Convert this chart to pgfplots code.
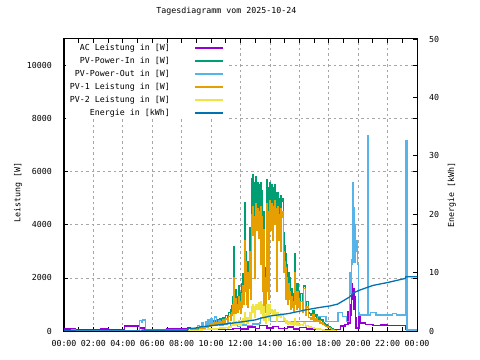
\documentclass[border=0pt]{standalone}
\usepackage{fontspec}
\setmainfont{DejaVu Sans Mono}
\usepackage{pgfplots}
\usepackage{pgfplotstable}
\pgfplotsset{compat=1.18}
\definecolor{cAC}{HTML}{9400D3}
\definecolor{cIn}{HTML}{009E73}
\definecolor{cOut}{HTML}{56B4E9}
\definecolor{cPa}{HTML}{E69F00}
\definecolor{cPb}{HTML}{F0E442}
\definecolor{cE}{HTML}{0072B2}
\newcommand\gf{\fontsize{8.3bp}{10bp}\selectfont}

\pgfplotstableread{
h G O Y
8.4 0 0 0
8.5 10 5 3
8.6 15 10 5
8.7 30 20 10
8.8 50 35 15
8.9 70 50 20
9.0 100 70 30
9.1 90 60 25
9.2 140 100 40
9.3 120 80 35
9.4 190 140 50
9.5 160 110 45
9.6 230 170 60
9.7 180 130 50
9.8 270 200 70
9.9 220 160 60
10.0 330 250 80
10.1 270 200 70
10.2 400 300 90
10.3 300 220 80
10.4 430 330 100
10.5 340 250 90
10.6 470 360 110
10.7 370 280 90
10.8 500 380 120
10.9 400 300 100
11.0 580 450 130
11.1 460 350 110
11.2 700 550 150
11.3 520 400 120
11.35 800 600 180
11.40 950 700 250
11.45 1300 1000 300
11.50 800 600 200
11.55 3160 2000 600
11.60 1050 800 250
11.65 1550 1200 350
11.70 850 650 200
11.75 1300 1000 300
11.80 950 700 250
11.85 1700 1300 400
11.90 1050 800 250
11.95 1450 1100 350
12.00 850 650 200
12.05 1800 1400 400
12.10 1200 900 300
12.15 2150 1700 450
12.20 1300 1000 300
12.25 4850 3400 700
12.30 1900 1500 350
12.35 3000 2600 500
12.40 1300 1000 300
12.45 2600 2200 500
12.50 1200 900 300
12.55 2000 1600 400
12.60 3300 2800 600
12.65 3900 3000 700
12.70 1500 1200 400
12.75 5750 4400 900
12.80 4500 3600 700
12.85 5900 4700 1000
12.90 5600 4300 900
12.95 2500 2000 500
13.00 5800 4800 1000
13.05 5500 4500 950
13.10 4600 3800 800
13.15 5600 4600 1000
13.20 4200 3500 800
13.25 5400 4500 1050
13.30 5500 4400 1000
13.35 3000 2500 650
13.40 5600 4700 1100
13.45 5300 4300 1000
13.50 1900 1500 500
13.55 4500 3800 900
13.60 1200 900 400
13.65 2400 2000 600
13.70 900 700 300
13.75 1900 1500 500
13.80 5700 4800 1000
13.85 5400 4500 1000
13.90 1500 1200 400
13.95 5600 4900 1000
14.00 5300 4600 950
14.05 4300 3800 700
14.10 5500 4800 800
14.15 5300 4500 750
14.20 4000 3400 600
14.25 5400 4700 750
14.30 5500 4900 800
14.35 4500 4000 600
14.40 5200 4600 700
14.45 1900 1500 350
14.50 5100 4500 650
14.55 5200 4700 700
14.60 4000 3400 550
14.65 5000 4400 600
14.70 5100 4600 650
14.75 3500 3000 500
14.80 4900 4300 600
14.85 5000 4500 600
14.90 2600 2200 400
14.95 3700 3000 500
15.00 3200 2600 450
15.05 1500 1200 300
15.10 2900 2400 400
15.15 2500 2000 400
15.20 1300 1000 250
15.25 2200 1800 350
15.30 1500 1200 300
15.35 2000 1500 350
15.40 1100 800 250
15.45 1600 1300 300
15.50 1200 900 250
15.55 1400 1100 300
15.60 1000 700 200
15.65 2930 2200 450
15.70 1300 1000 250
15.75 1700 1400 300
15.80 1100 800 200
15.85 1800 1500 300
15.90 1200 900 200
15.95 1500 1200 250
16.00 1100 800 200
16.10 1400 1100 250
16.20 900 700 200
16.30 1700 1600 300
16.40 800 600 180
16.50 1100 900 200
16.60 700 500 150
16.70 650 500 150
16.80 600 450 130
16.90 750 600 120
17.00 550 400 100
17.10 600 450 100
17.20 450 350 80
17.30 500 400 70
17.40 400 300 60
17.50 420 330 50
17.60 320 250 40
17.70 280 220 30
17.80 230 180 20
17.90 190 150 15
18.00 150 120 10
18.10 110 90 5
18.20 80 60 0
18.30 40 30 0
18.40 15 10 0
18.50 0 0 0
}\pvtable

\pgfplotstableread{
h P
0.0 30
0.3 20
0.5 35
0.75 10
2.8 10
2.85 30
5.1 30
5.12 400
5.3 330
5.35 420
5.5 420
5.52 40
8.4 40
8.45 100
8.6 60
9.0 80
9.1 200
9.2 120
9.35 300
9.45 150
9.6 350
9.7 180
9.8 420
9.9 220
10.0 480
10.1 260
10.25 530
10.35 300
10.5 380
10.6 220
10.8 420
10.9 260
11.1 320
11.3 200
11.5 260
11.8 180
12.0 230
12.4 200
12.8 260
13.3 300
13.35 520
14.0 520
14.05 370
17.2 370
17.22 540
17.8 540
17.82 350
18.6 350
18.62 700
18.9 700
18.92 540
19.2 540
19.22 350
19.38 350
19.40 1200
19.43 2200
19.47 2000
19.50 1400
19.53 2700
19.58 2500
19.61 5600
19.66 5600
19.68 2600
19.71 4660
19.74 2800
19.77 4020
19.81 2600
19.84 3420
19.88 3000
19.91 3420
19.96 2500
20.02 700
20.05 600
20.60 600
20.62 7370
20.67 7370
20.69 600
20.80 600
20.82 710
21.20 710
21.22 600
22.30 600
22.32 650
22.60 650
22.62 600
23.20 600
23.22 7180
23.29 7180
23.31 40
24.0 40
}\outtable

\pgfplotstableread{
h P
0.0 75
0.2 40
0.25 75
0.5 40
0.55 75
0.8 50
1.5 60
2.0 50
2.5 70
3.0 50
3.5 60
4.1 190
5.12 110
5.5 60
6.5 60
7.0 70
8.4 110
8.6 60
9.0 50
10.0 80
11.0 60
11.5 100
12.0 80
12.5 150
13.0 100
13.3 220
13.8 110
14.2 180
14.6 100
15.2 150
15.6 80
16.0 120
16.5 70
17.0 65
18.8 190
19.1 250
19.3 720
19.35 300
19.45 1000
19.5 600
19.55 1770
19.62 1200
19.67 1600
19.72 800
19.77 1300
19.82 500
19.85 110
20.05 600
20.12 300
20.5 250
21.0 200
21.5 230
22.0 200
22.5 220
23.2 65
24 65
}\actable

\pgfplotstableread{
h E
0 0.1
0.75 0.1
0.76 0.0
5.3 0.0
5.31 0.15
8.4 0.15
8.45 0.45
9.0 0.5
9.25 0.7
10.0 0.9
11.3 1.3
12.2 1.6
13.0 1.9
13.4 2.2
14.1 2.6
15.3 3.0
16.4 3.6
17.3 4.0
18.1 4.3
18.6 4.6
19.0 5.2
19.4 5.8
19.65 6.5
20.1 7.0
21.0 7.8
22.0 8.3
23.2 9.0
23.25 9.3
24 9.3
}\entable

\begin{document}
\begin{tikzpicture}[font=\gf]
\path[use as bounding box] (0,0) rectangle (480bp,360bp);
\begin{axis}[
  at={(64bp,29bp)}, anchor=south west, scale only axis, width=353bp, height=292bp,
  xmin=0, xmax=24, ymin=0, ymax=11000,
  scaled y ticks=false,
  xtick={0,2,...,24},
  xticklabels={00:00,02:00,04:00,06:00,08:00,10:00,12:00,14:00,16:00,18:00,20:00,22:00,00:00},
  minor xtick={1,3,...,23},
  ytick={0,2000,...,10000}, yticklabels={0,2000,4000,6000,8000,10000},
  tick align=inside, major tick length=4bp, minor tick length=4bp,
  tick style={black, line width=0.8bp},
  axis line style={black, line width=1bp},
  xmajorgrids, ymajorgrids,
  major grid style={color=black!35, line width=0.8bp, dash pattern=on 2.5bp off 3bp},
  xticklabel style={inner sep=0pt, anchor=north, yshift=-9bp, font=\gf},
  yticklabel style={inner sep=0pt, anchor=east, xshift=-12bp, font=\gf},
  ylabel={Leistung [W]},
  ylabel style={at={(axis description cs:-0.13,0.473)}, anchor=center, inner sep=0pt, font=\gf},
  title={Tagesdiagramm vom 2025-10-24},
  title style={at={(axis description cs:0.46,1.075)}, anchor=center, inner sep=0pt, font=\gf},
  legend plot pos=right, legend cell align=right,
  legend style={draw=none, fill=white, at={(axis description cs:0.4646,0.9867)}, anchor=north east,
    inner xsep=4bp, inner ysep=1.5bp,
    row sep=5.2bp, column sep=24bp, nodes={inner sep=0pt}, font=\gf},
  legend image code/.code={\draw[#1, line width=2bp] (0bp,0bp) -- (28bp,0bp);},
]
\addplot[cAC, const plot, line width=1.3bp] table[x=h, y=P] {\actable};
\addlegendentry{AC Leistung in [W]}
\addplot[cIn, const plot, line width=1.3bp] table[x=h, y=G] {\pvtable};
\addlegendentry{PV-Power-In in [W]}
\addplot[cOut, const plot, line width=1.3bp] table[x=h, y=P] {\outtable};
\addlegendentry{PV-Power-Out in [W]}
\addplot[cPa, const plot, line width=1.3bp] table[x=h, y=O] {\pvtable};
\addlegendentry{PV-1 Leistung in [W]}
\addplot[cPb, const plot, line width=1.3bp] table[x=h, y=Y] {\pvtable};
\addlegendentry{PV-2 Leistung in [W]}
\addlegendimage{cE}
\addlegendentry{Energie in [kWh]}
\end{axis}
\begin{axis}[
  at={(64bp,29bp)}, anchor=south west, scale only axis, width=353bp, height=292bp,
  xmin=0, xmax=24, ymin=0, ymax=50,
  axis x line=none, axis y line*=right,
  ytick={0,10,...,50}, yticklabels={0,10,20,30,40,50},
  tick align=inside, major tick length=4bp,
  tick style={black, line width=0.8bp},
  axis line style={black, line width=1bp},
  yticklabel style={inner sep=0pt, anchor=west, xshift=12bp, font=\gf},
  ylabel={Energie [kWh]},
  ylabel style={at={(axis description cs:1.099,0.466)}, anchor=center, inner sep=0pt, font=\gf},
]
\addplot[cE, line width=1.3bp] table[x=h, y=E] {\entable};
\end{axis}
\end{tikzpicture}
\end{document}
